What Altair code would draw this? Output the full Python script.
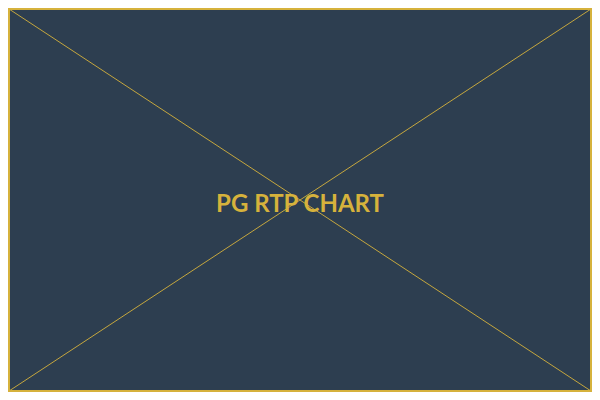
import altair as alt
import pandas as pd

# Placeholder content
label_text = ["PG RTP CHART"]
diag_x = [0, 1, 0, 1]
diag_y = [0, 1, 1, 0]
diag_id = ["a", "a", "b", "b"]
frame_x = [0]
frame_x2 = [1]
frame_y = [0]
frame_y2 = [1]

BG = "#2d3e50"
GOLD = "#d6b23c"

xs = alt.Scale(domain=[0, 1], nice=False, zero=False)
ys = alt.Scale(domain=[0, 1], nice=False, zero=False)

diag_df = pd.DataFrame({"x": diag_x, "y": diag_y, "id": diag_id})
frame_df = pd.DataFrame({"x": frame_x, "x2": frame_x2, "y": frame_y, "y2": frame_y2})
text_df = pd.DataFrame({"x": [0.5], "y": [0.5], "t": label_text})

diags = alt.Chart(diag_df).mark_line(color=GOLD, strokeWidth=0.9).encode(
    x=alt.X("x:Q", scale=xs, axis=None),
    y=alt.Y("y:Q", scale=ys, axis=None),
    detail="id:N",
)

frame = alt.Chart(frame_df).mark_rect(fill=None, stroke=GOLD, strokeWidth=2).encode(
    x=alt.X("x:Q", scale=xs, axis=None),
    x2="x2:Q",
    y=alt.Y("y:Q", scale=ys, axis=None),
    y2="y2:Q",
)

text = alt.Chart(text_df).mark_text(
    color=GOLD, font="Lato", fontSize=24, fontWeight="bold", baseline="middle",
    align="center", dy=5
).encode(
    x=alt.X("x:Q", scale=xs, axis=None),
    y=alt.Y("y:Q", scale=ys, axis=None),
    text="t:N",
)

chart = (
    alt.layer(frame, diags, text)
    .properties(
        width=582,
        height=382,
        background=BG,
        padding=1,
        autosize=alt.AutoSizeParams(type="none"),
    )
    .configure_view(stroke=None)
)

chart.save("out.html", embed_options={"renderer": "svg", "actions": False})
